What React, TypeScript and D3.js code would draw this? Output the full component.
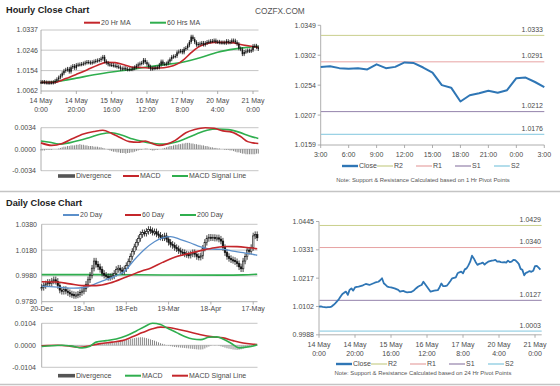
import React from "react";
import * as d3 from "d3";

const FONT = '"Liberation Sans", Arial, Helvetica, sans-serif';
const TXT = "#4a4a4a";
const GRID = "#b8b8b8";
const AXIS = "#9a9a9a";

// ---------------- hourly data (14 May 0:00 -> 21 May 3:00, weekend skipped) ----------------
const hourlyClose = [
  1.0102, 1.0103, 1.0101, 1.0100, 1.0099, 1.0100, 1.0100, 1.0102, 1.0108, 1.0115,
  1.0123, 1.0131, 1.0142, 1.0153, 1.0158, 1.0162, 1.0149, 1.0169, 1.0175, 1.0166,
  1.0179, 1.0181, 1.0182, 1.0184, 1.0186, 1.0190, 1.0193, 1.0191, 1.0189, 1.0192,
  1.0195, 1.0198, 1.0200, 1.0202, 1.0208, 1.0216, 1.0196, 1.0189, 1.0182, 1.0180,
  1.0179, 1.0177, 1.0175, 1.0172, 1.0169, 1.0162, 1.0164, 1.0165, 1.0161, 1.0159,
  1.0160, 1.0160, 1.0164, 1.0169, 1.0176, 1.0182, 1.0186, 1.0189, 1.0202, 1.0192,
  1.0182, 1.0172, 1.0162, 1.0164, 1.0166, 1.0167, 1.0168, 1.0180, 1.0195, 1.0184,
  1.0184, 1.0186, 1.0195, 1.0205, 1.0216, 1.0218, 1.0220, 1.0236, 1.0240, 1.0243,
  1.0236, 1.0252, 1.0256, 1.0268, 1.0283, 1.0307, 1.0296, 1.0282, 1.0270, 1.0274,
  1.0276, 1.0279, 1.0271, 1.0278, 1.0283, 1.0285, 1.0287, 1.0288, 1.0290, 1.0283,
  1.0284, 1.0281, 1.0280, 1.0281, 1.0279, 1.0287, 1.0281, 1.0283, 1.0290, 1.0289,
  1.0282, 1.0274, 1.0254, 1.0250, 1.0228, 1.0238, 1.0241, 1.0245, 1.0242, 1.0246,
  1.0265, 1.0266, 1.0259, 1.0251,
];
const hourlyTickIndex = [0, 20, 40, 60, 80, 100, 120];
const hourlyTickDay = ["14 May", "14 May", "15 May", "16 May", "17 May", "20 May", "21 May"];
const hourlyTickTime = ["0:00", "20:00", "16:00", "12:00", "8:00", "4:00", "0:00"];
const hourlyYTicks = [1.0062, 1.0154, 1.0246, 1.0337];
const hourlyYLabels = ["1.0062", "1.0154", "1.0246", "1.0337"];

const ma20Hours = [0, 8, 14, 20, 26, 32, 37, 42, 47, 52, 57, 62, 67, 72, 77, 81, 85, 89, 93, 98, 103, 108, 113, 118, 123];
const ma20Values = [1.0101, 1.0101, 1.0118, 1.0137, 1.0157, 1.0178, 1.0191, 1.019, 1.018, 1.0169, 1.0168, 1.0166, 1.0166, 1.017, 1.0183, 1.0205, 1.0235, 1.026, 1.0274, 1.0281, 1.0281, 1.028, 1.0272, 1.0265, 1.0258];
const ma60Hours = [0, 10, 20, 30, 40, 50, 60, 70, 80, 90, 100, 110, 118, 123];
const ma60Values = [1.0101, 1.0106, 1.012, 1.0135, 1.0148, 1.0158, 1.017, 1.0181, 1.0192, 1.0212, 1.0237, 1.0252, 1.026, 1.0263];

const hMacdHours = [0, 6, 12, 18, 24, 30, 35, 40, 45, 50, 55, 59, 63, 67, 71, 76, 82, 87, 93, 98, 103, 108, 113, 117, 120, 123];
const hMacdValues = [0.001, 0.0006, 0.0009, 0.0017, 0.0024, 0.0028, 0.003, 0.0025, 0.0018, 0.0012, 0.0011, 0.0013, 0.0009, 0.0006, 0.0008, 0.0014, 0.0026, 0.0031, 0.0034, 0.0033, 0.0029, 0.0027, 0.002, 0.0012, 0.001, 0.0009];
const hSignalHours = [0, 5, 10, 16, 22, 28, 34, 40, 46, 52, 58, 64, 70, 76, 82, 88, 94, 100, 106, 112, 118, 123];
const hSignalValues = [0.0013, 0.0011, 0.0008, 0.001, 0.0014, 0.0019, 0.0024, 0.0026, 0.0022, 0.0016, 0.0012, 0.0009, 0.0008, 0.0011, 0.0017, 0.0024, 0.003, 0.0032, 0.0031, 0.0027, 0.0021, 0.0017];
const hDivergence = [
  -0.0002, -0.0002, -0.0002, -0.0001, -0.0001, -0.0001, -0.0001, 0, 0, 0,
  0.0001, 0.0002, 0.0003, 0.0004, 0.0004, 0.0005, 0.0005, 0.0006, 0.0006, 0.0006,
  0.0007, 0.0007, 0.0008, 0.0007, 0.0007, 0.0006, 0.0006, 0.0005, 0.0005, 0.0005,
  0.0004, 0.0004, 0.0004, 0.0003, 0.0003, 0.0002, 0.0001, 0, -0.0001, -0.0002,
  -0.0003, -0.0004, -0.0004, -0.0005, -0.0005, -0.0006, -0.0006, -0.0006, -0.0007, -0.0006,
  -0.0006, -0.0005, -0.0005, -0.0004, -0.0003, -0.0002, -0.0001, -0.0001, 0, 0.0001,
  0.0001, 0, -0.0001, -0.0002, -0.0002, -0.0001, -0.0001, 0, 0, 0.0001,
  0.0002, 0.0003, 0.0004, 0.0005, 0.0005, 0.0006, 0.0007, 0.0007, 0.0008, 0.0008,
  0.0009, 0.0009, 0.001, 0.001, 0.001, 0.0009, 0.0009, 0.0008, 0.0008, 0.0007,
  0.0007, 0.0006, 0.0006, 0.0005, 0.0005, 0.0004, 0.0003, 0.0003, 0.0002, 0.0002,
  0.0001, 0.0001, 0, 0, -0.0001, -0.0001, -0.0001, -0.0002, -0.0002, -0.0003,
  -0.0004, -0.0005, -0.0005, -0.0006, -0.0007, -0.0007, -0.0008, -0.0008, -0.0008, -0.0008,
  -0.0008, -0.0008, -0.0007, -0.0007,
];
const hMacdTicks = [-0.0034, 0, 0.0034];
const hMacdLabels = ["-0.0034", "0.0000", "0.0034"];

// ---------------- 1 Hr pivot chart (20 May 3:00 -> 21 May 3:00) ----------------
const pivot1Start = 99;
const pivot1XLabels = ["3:00", "6:00", "9:00", "12:00", "15:00", "18:00", "21:00", "0:00", "3:00"];
const pivot1YTicks = [1.0159, 1.02065, 1.0254, 1.03015, 1.0349];
const pivot1YLabels = ["1.0159", "1.0207", "1.0254", "1.0302", "1.0349"];
const pivot1Names = ["R2", "R1", "S1", "S2"];
const pivot1Levels = [1.0333, 1.0291, 1.0212, 1.0176];
const pivot1Labels = ["1.0333", "1.0291", "1.0212", "1.0176"];

// ---------------- 24 Hr pivot chart ----------------
const pivot24YTicks = [0.9988, 1.010225, 1.02165, 1.033075, 1.0445];
const pivot24YLabels = ["0.9988", "1.0102", "1.0217", "1.0331", "1.0445"];
const pivot24Levels = [1.0429, 1.034, 1.0127, 1.0003];
const pivot24Labels = ["1.0429", "1.0340", "1.0127", "1.0003"];
const pivotColors = ["#c9cf8c", "#e7a3a3", "#9483ab", "#80c6de"];

// ---------------- daily data ----------------
const dailyClose = [
  0.9891, 0.9905, 0.9918, 0.993, 0.9922, 0.994, 0.995, 0.9938, 0.9905, 0.987,
  0.986, 0.9875, 0.9862, 0.985, 0.984, 0.9835, 0.9828, 0.9832, 0.9838, 0.985,
  0.9862, 0.988, 0.9915, 0.995, 0.9985, 1.004, 1.0095, 1.007, 1.005, 1.003,
  1.0, 0.9985, 0.9975, 0.9968, 0.9975, 0.998, 1.0, 1.003, 1.004, 1.0025,
  1.0015, 1.0035, 1.006, 1.009, 1.013, 1.017, 1.0205, 1.024, 1.027, 1.03,
  1.0315, 1.031, 1.0325, 1.034, 1.033, 1.0318, 1.0322, 1.0305, 1.0295, 1.028,
  1.0275, 1.029, 1.0265, 1.024, 1.0225, 1.0215, 1.02, 1.019, 1.0175, 1.0165,
  1.016, 1.015, 1.0145, 1.014, 1.015, 1.016, 1.0148, 1.013, 1.0125, 1.0135,
  1.0195, 1.024, 1.027, 1.028, 1.0275, 1.0278, 1.0272, 1.0275, 1.0265, 1.025,
  1.02, 1.016, 1.013, 1.0115, 1.0105, 1.01, 1.009, 1.0075, 1.005, 1.0035,
  1.0095, 1.013, 1.018, 1.017, 1.02, 1.029, 1.03, 1.0275,
];
const dailyTickIndex = [0, 21, 42, 63, 84, 105];
const dailyTickLabels = ["20-Dec", "18-Jan", "18-Feb", "19-Mar", "18-Apr", "17-May"];
const dailyYTicks = [0.978, 0.998, 1.018, 1.038];
const dailyYLabels = ["0.9780", "0.9980", "1.0180", "1.0380"];

const ma20DayIdx = [0, 8, 16, 21, 26, 31, 36, 41, 46, 51, 56, 60, 64, 69, 74, 79, 84, 90, 95, 100, 107];
const ma20DayValues = [0.99, 0.9893, 0.9885, 0.989, 0.9915, 0.9945, 0.9975, 1.0015, 1.0105, 1.0185, 1.0245, 1.0275, 1.0285, 1.0262, 1.0235, 1.0205, 1.0188, 1.0185, 1.0172, 1.016, 1.014];
const ma60DayIdx = [0, 7, 14, 20, 27, 34, 42, 50, 54, 60, 66, 74, 80, 86, 92, 97, 103, 107];
const ma60DayValues = [0.9935, 0.9933, 0.9918, 0.9905, 0.9905, 0.9925, 0.9972, 1.002, 1.004, 1.0085, 1.0125, 1.0158, 1.018, 1.0198, 1.0208, 1.0207, 1.0198, 1.019];
const ma200DayIdx = [0, 30, 60, 90, 100, 107];
const ma200DayValues = [0.999, 0.999, 0.9987, 0.9986, 0.9988, 0.9993];

const dMacdIdx = [0, 5, 10, 15, 20, 24, 27, 32, 37, 42, 47, 51, 55, 59, 63, 67, 71, 75, 79, 83, 87, 90, 94, 98, 102, 105, 107];
const dMacdValues = [-0.0006, -0.0002, 0.0, -0.0004, -0.0012, -0.0004, 0.0015, 0.0022, 0.003, 0.0045, 0.0068, 0.0088, 0.0104, 0.0098, 0.0078, 0.006, 0.0042, 0.003, 0.0027, 0.0038, 0.004, 0.003, 0.001, -0.0012, -0.0008, -0.0003, 0.0003];
const dSignalIdx = [0, 8, 14, 19, 24, 29, 35, 40, 45, 50, 55, 59, 63, 68, 73, 79, 85, 90, 95, 100, 104, 107];
const dSignalValues = [-0.0002, 0.0, -0.0004, -0.001, -0.0002, 0.0008, 0.0015, 0.0022, 0.004, 0.006, 0.0078, 0.0086, 0.0084, 0.0075, 0.0064, 0.005, 0.004, 0.0035, 0.0022, 0.0011, 0.0006, 0.0004];
const dDivergence = [
  -0.0003, -0.0003, -0.0002, -0.0002, -0.0001, -0.0001, 0, 0, 0, 0,
  0, 0, 0, -0.0001, -0.0001, -0.0002, -0.0002, -0.0003, -0.0003, -0.0003,
  -0.0003, -0.0002, -0.0001, 0, 0.0002, 0.0004, 0.0006, 0.0007, 0.0008, 0.0008,
  0.0009, 0.0009, 0.001, 0.0011, 0.0012, 0.0013, 0.0014, 0.0016, 0.0018, 0.002,
  0.0022, 0.0024, 0.0026, 0.0028, 0.003, 0.0032, 0.0034, 0.0036, 0.0037, 0.0038,
  0.0038, 0.0036, 0.0034, 0.0031, 0.0028, 0.0025, 0.0022, 0.0018, 0.0014, 0.001,
  0.0007, 0.0004, 0.0001, -0.0002, -0.0004, -0.0006, -0.0008, -0.0009, -0.001, -0.0011,
  -0.0012, -0.0013, -0.0014, -0.0015, -0.0016, -0.0017, -0.0018, -0.0019, -0.002, -0.002,
  -0.0019, -0.0015, -0.001, -0.0006, -0.0002, 0, 0.0001, 0, -0.0002, -0.0005,
  -0.0008, -0.0011, -0.0014, -0.0016, -0.0018, -0.002, -0.0021, -0.0022, -0.0021, -0.0019,
  -0.0016, -0.0013, -0.001, -0.0008, -0.0006, -0.0004, -0.0002, 0,
];
const dMacdTicks = [-0.0104, 0, 0.0104];
const dMacdLabels = ["-0.0104", "0.0000", "0.0104"];

// ---------------- colours ----------------
const RED = "#c4262b";
const GREEN = "#2fae4e";
const BLUE_MA = "#5b8fca";
const CLOSE_BLUE = "#2f76b5";
const DIV_GRAY = "#7a7a7a";

type Scale = d3.ScaleLinear<number, number>;

function Txt(props: any) {
  const { children, size = 7, fill = TXT, ...rest } = props;
  return (
    <text fontFamily={FONT} fontSize={size} fill={fill} {...rest}>
      {children}
    </text>
  );
}

function SparseLine({ xs, ys, x, y, color, width = 1.6 }: { xs: number[]; ys: number[]; x: Scale; y: Scale; color: string; width?: number }) {
  const pts = xs.map((v, i) => [x(v), y(ys[i])] as [number, number]);
  const gen = d3.line().curve(d3.curveMonotoneX);
  return <path d={gen(pts) || ""} fill="none" stroke={color} strokeWidth={width} strokeLinejoin="round" />;
}

function Candles({ data, x, y, w, wick, hollow }: { data: number[]; x: Scale; y: Scale; w: number; wick: number; hollow: boolean }) {
  return (
    <g>
      {data.map((c, i) => {
        const o = i > 0 ? data[i - 1] : c;
        const top = y(Math.max(o, c));
        const bot = y(Math.min(o, c));
        const cx = x(i);
        const up = c >= o;
        return (
          <g key={i}>
            <line x1={cx} x2={cx} y1={top - wick} y2={bot + wick} stroke="#111" strokeWidth={0.8} />
            <rect
              x={cx - w / 2}
              y={top}
              width={w}
              height={Math.max(bot - top, 1.2)}
              fill={hollow && up ? "#fff" : "#111"}
              stroke="#111"
              strokeWidth={hollow ? 0.6 : 0}
            />
          </g>
        );
      })}
    </g>
  );
}

function DivBars({ data, x, y }: { data: number[]; x: Scale; y: Scale }) {
  return (
    <g>
      {data.map((v, i) => (
        <line key={i} x1={x(i)} x2={x(i)} y1={y(0)} y2={y(v)} stroke={DIV_GRAY} strokeWidth={0.9} />
      ))}
    </g>
  );
}

function YAxisLabels({ ticks, labels, y, xr }: { ticks: number[]; labels: string[]; y: Scale; xr: number }) {
  return (
    <g>
      {ticks.map((t, i) => (
        <Txt key={i} x={xr} y={y(t)} dy="0.35em" textAnchor="end">
          {labels[i]}
        </Txt>
      ))}
    </g>
  );
}

function LegendLine({ x, y, color, label, w = 16, sw = 2 }: { x: number; y: number; color: string; label: string; w?: number; sw?: number }) {
  return (
    <g>
      <line x1={x} x2={x + w} y1={y} y2={y} stroke={color} strokeWidth={sw} />
      <Txt x={x + w + 1} y={y} dy="0.35em">
        {label}
      </Txt>
    </g>
  );
}

function LegendBox({ x, y, label }: { x: number; y: number; label: string }) {
  return (
    <g>
      <rect x={x} y={y - 1.8} width={17} height={3.6} fill="#555" />
      <Txt x={x + 18} y={y} dy="0.35em">
        {label}
      </Txt>
    </g>
  );
}

export default function App() {
  // ---------- top-left hourly ----------
  const hx = d3.scaleLinear().domain([0, 123]).range([41, 258.3]);
  const hy = d3.scaleLinear().domain([1.0062, 1.0337]).range([91, 30]);
  const hmy = d3.scaleLinear().domain([-0.0034, 0.0034]).range([170.7, 127.7]);
  const hL = 41, hR = 258.5;

  // ---------- top-right 1hr pivot ----------
  const p1Data = hourlyClose.slice(pivot1Start);
  const p1x = d3.scaleLinear().domain([0, 24]).range([320.7, 544.3]);
  const p1y = d3.scaleLinear().domain([1.0159, 1.0349]).range([145, 25.3]);
  const p1Line = d3.line<number>().x((_, i) => p1x(i)).y((d) => p1y(d));

  // ---------- bottom-left daily ----------
  const dx = d3.scaleLinear().domain([0, 107]).range([41.7, 257.2]);
  const dy = d3.scaleLinear().domain([0.978, 1.038]).range([301.7, 224.3]);
  const dmy = d3.scaleLinear().domain([-0.0104, 0.0104]).range([367.3, 323.3]);
  const dL = 41.7, dR = 257.5;

  // ---------- bottom-right 24hr pivot ----------
  const p2x = d3.scaleLinear().domain([0, 123]).range([319, 540.4]);
  const p2y = d3.scaleLinear().domain([0.9988, 1.0445]).range([334.8, 221.5]);
  const p2Line = d3.line<number>().x((_, i) => p2x(i)).y((d) => p2y(d));

  const legendPivot = (y: number, x0: number) => (
    <g>
      <LegendLine x={x0} y={y} color={CLOSE_BLUE} label="Close" sw={2.4} />
      {pivot1Names.map((n, i) => (
        <LegendLine key={n} x={x0 + 35 + i * 39} y={y} color={pivotColors[i]} label={n} sw={1.2} />
      ))}
    </g>
  );

  return (
    <svg width={560} height={386} style={{ position: "absolute", left: 0, top: 0, background: "#fff" }}>
      <rect x={0} y={0} width={560} height={386} fill="#fff" />

      {/* ================= TOP LEFT ================= */}
      <Txt x={6} y={13} size={9.2} fontWeight="bold" fill="#222">
        Hourly Close Chart
      </Txt>
      <Txt x={255} y={13.5} size={8.3} fill="#555">
        COZFX.COM
      </Txt>
      <LegendLine x={84} y={22.7} color={RED} label="20 Hr MA" />
      <LegendLine x={150} y={22.7} color={GREEN} label="60 Hrs MA" />

      {hourlyYTicks.map((t, i) => (
        <line key={i} x1={hL} x2={hR} y1={hy(t)} y2={hy(t)} stroke={i === 0 ? AXIS : GRID} strokeWidth={0.8} />
      ))}
      <line x1={hL} x2={hL} y1={hy(1.0337)} y2={hy(1.0062)} stroke={AXIS} strokeWidth={0.8} />
      {hourlyTickIndex.map((t, i) => (
        <g key={i}>
          <line x1={hx(t)} x2={hx(t)} y1={91} y2={94} stroke={AXIS} strokeWidth={0.8} />
          <Txt x={hx(t)} y={103} textAnchor="middle">
            {hourlyTickDay[i]}
          </Txt>
          <Txt x={hx(t)} y={111.5} textAnchor="middle">
            {hourlyTickTime[i]}
          </Txt>
        </g>
      ))}
      <YAxisLabels ticks={hourlyYTicks} labels={hourlyYLabels} y={hy} xr={38} />
      <SparseLine xs={ma60Hours} ys={ma60Values} x={hx} y={hy} color={GREEN} />
      <SparseLine xs={ma20Hours} ys={ma20Values} x={hx} y={hy} color={RED} />
      <Candles data={hourlyClose} x={hx} y={hy} w={1.4} wick={1.9} hollow={false} />

      {/* MACD hourly */}
      {hMacdTicks.map((t, i) => (
        <line key={i} x1={hL} x2={hR} y1={hmy(t)} y2={hmy(t)} stroke={GRID} strokeWidth={0.8} />
      ))}
      <line x1={hL} x2={hL} y1={127.7} y2={170.7} stroke={AXIS} strokeWidth={0.8} />
      <YAxisLabels ticks={hMacdTicks} labels={hMacdLabels} y={hmy} xr={36} />
      <DivBars data={hDivergence} x={hx} y={hmy} />
      <SparseLine xs={hSignalHours} ys={hSignalValues} x={hx} y={hmy} color={GREEN} />
      <SparseLine xs={hMacdHours} ys={hMacdValues} x={hx} y={hmy} color={RED} />
      <LegendBox x={58} y={176} label="Divergence" />
      <LegendLine x={123} y={176} color={RED} label="MACD" />
      <LegendLine x={172} y={176} color={GREEN} label="MACD Signal Line" />

      {/* ================= TOP RIGHT ================= */}
      <line x1={320.7} x2={320.7} y1={25.3} y2={145} stroke={AXIS} strokeWidth={0.8} />
      <line x1={320.7} x2={544.3} y1={145} y2={145} stroke={AXIS} strokeWidth={0.8} />
      {pivot1YTicks.map((t, i) => (
        <line key={i} x1={317.7} x2={320.7} y1={p1y(t)} y2={p1y(t)} stroke={AXIS} strokeWidth={0.8} />
      ))}
      <YAxisLabels ticks={pivot1YTicks} labels={pivot1YLabels} y={p1y} xr={316} />
      {pivot1XLabels.map((l, i) => (
        <g key={i}>
          <line x1={p1x(i * 3)} x2={p1x(i * 3)} y1={145} y2={148} stroke={AXIS} strokeWidth={0.8} />
          <Txt x={p1x(i * 3)} y={157} textAnchor="middle">
            {l}
          </Txt>
        </g>
      ))}
      {pivot1Levels.map((v, i) => (
        <g key={i}>
          <line x1={321} x2={544.3} y1={p1y(v)} y2={p1y(v)} stroke={pivotColors[i]} strokeWidth={1} />
          <Txt x={543} y={p1y(v) - 3.5} textAnchor="end">
            {pivot1Labels[i]}
          </Txt>
        </g>
      ))}
      <path d={p1Line(p1Data) || ""} fill="none" stroke={CLOSE_BLUE} strokeWidth={2} strokeLinejoin="round" />
      {legendPivot(166, 342)}
      <Txt x={423} y={182} size={5.9} textAnchor="middle" fill="#555">
        Note: Support &amp; Resistance Calculated based on 1 Hr Pivot Points
      </Txt>

      {/* separators */}
      <line x1={0} x2={560} y1={191.5} y2={191.5} stroke="#c4c4c4" strokeWidth={1.6} />
      <line x1={0} x2={560} y1={384.5} y2={384.5} stroke="#c4c4c4" strokeWidth={1.6} />

      {/* ================= BOTTOM LEFT ================= */}
      <Txt x={6} y={205.5} size={9.2} fontWeight="bold" fill="#222">
        Daily Close Chart
      </Txt>
      <LegendLine x={63} y={215} color={BLUE_MA} label="20 Day" />
      <LegendLine x={125} y={215} color={RED} label="60 Day" />
      <LegendLine x={180} y={215} color={GREEN} label="200 Day" />
      {dailyYTicks.map((t, i) => (
        <line key={i} x1={dL} x2={dR} y1={dy(t)} y2={dy(t)} stroke={i === 0 ? AXIS : GRID} strokeWidth={0.8} />
      ))}
      <line x1={dL} x2={dL} y1={224.3} y2={301.7} stroke={AXIS} strokeWidth={0.8} />
      {dailyTickIndex.map((t, i) => (
        <g key={i}>
          <line x1={dx(t)} x2={dx(t)} y1={301.7} y2={304.5} stroke={AXIS} strokeWidth={0.8} />
          <Txt x={dx(t)} y={311} textAnchor="middle">
            {dailyTickLabels[i]}
          </Txt>
        </g>
      ))}
      <YAxisLabels ticks={dailyYTicks} labels={dailyYLabels} y={dy} xr={37} />
      <SparseLine xs={ma200DayIdx} ys={ma200DayValues} x={dx} y={dy} color={GREEN} />
      <Candles data={dailyClose} x={dx} y={dy} w={1.6} wick={3.2} hollow={true} />
      <SparseLine xs={ma20DayIdx} ys={ma20DayValues} x={dx} y={dy} color={BLUE_MA} width={1.3} />
      <SparseLine xs={ma60DayIdx} ys={ma60DayValues} x={dx} y={dy} color={RED} />

      {/* MACD daily */}
      {dMacdTicks.map((t, i) => (
        <line key={i} x1={dL} x2={dR} y1={dmy(t)} y2={dmy(t)} stroke={GRID} strokeWidth={0.8} />
      ))}
      <line x1={dL} x2={dL} y1={323.3} y2={367.3} stroke={AXIS} strokeWidth={0.8} />
      <YAxisLabels ticks={dMacdTicks} labels={dMacdLabels} y={dmy} xr={36} />
      <DivBars data={dDivergence} x={dx} y={dmy} />
      <SparseLine xs={dSignalIdx} ys={dSignalValues} x={dx} y={dmy} color={RED} />
      <SparseLine xs={dMacdIdx} ys={dMacdValues} x={dx} y={dmy} color={GREEN} />
      <LegendBox x={58} y={375.7} label="Divergence" />
      <LegendLine x={125} y={375.7} color={GREEN} label="MACD" />
      <LegendLine x={172} y={375.7} color={RED} label="MACD Signal Line" />

      {/* ================= BOTTOM RIGHT ================= */}
      <line x1={319} x2={319} y1={221.5} y2={334.8} stroke={AXIS} strokeWidth={0.8} />
      <line x1={319} x2={541.7} y1={334.8} y2={334.8} stroke={AXIS} strokeWidth={0.8} />
      {pivot24YTicks.map((t, i) => (
        <line key={i} x1={316} x2={319} y1={p2y(t)} y2={p2y(t)} stroke={AXIS} strokeWidth={0.8} />
      ))}
      <YAxisLabels ticks={pivot24YTicks} labels={pivot24YLabels} y={p2y} xr={314} />
      {hourlyTickIndex.map((t, i) => (
        <g key={i}>
          <line x1={p2x(t)} x2={p2x(t)} y1={334.8} y2={337.8} stroke={AXIS} strokeWidth={0.8} />
          <Txt x={p2x(t)} y={347} textAnchor="middle">
            {hourlyTickDay[i]}
          </Txt>
          <Txt x={p2x(t)} y={355.5} textAnchor="middle">
            {hourlyTickTime[i]}
          </Txt>
        </g>
      ))}
      {pivot24Levels.map((v, i) => (
        <g key={i}>
          <line x1={319.5} x2={541.7} y1={p2y(v)} y2={p2y(v)} stroke={pivotColors[i]} strokeWidth={1} />
          <Txt x={541} y={p2y(v) - 3.5} textAnchor="end">
            {pivot24Labels[i]}
          </Txt>
        </g>
      ))}
      <path d={p2Line(hourlyClose) || ""} fill="none" stroke={CLOSE_BLUE} strokeWidth={1.8} strokeLinejoin="round" />
      {legendPivot(364, 336)}
      <Txt x={423} y={375} size={5.9} textAnchor="middle" fill="#555">
        Note: Support &amp; Resistance Calculated based on 24 Hr Pivot Points
      </Txt>
    </svg>
  );
}
